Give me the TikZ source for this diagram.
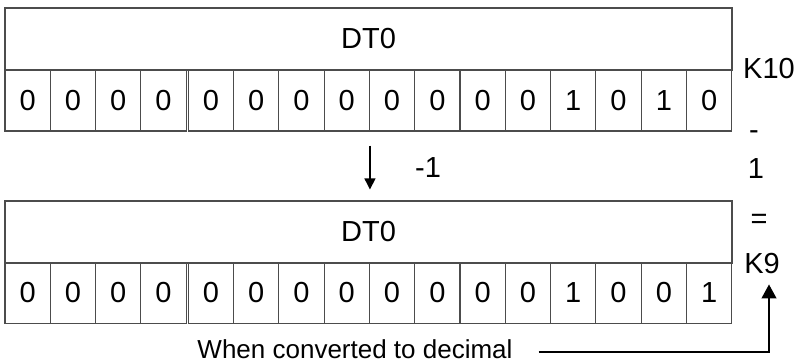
\documentclass[tikz,border=0pt]{standalone}
\usepackage{fontspec}
\setmainfont{Liberation Sans}
\usetikzlibrary{arrows.meta,positioning,calc}

\begin{document}
\begin{tikzpicture}[x=1pt, y=-1pt, every node/.style={font=\fontsize{29}{34}\selectfont, inner sep=0pt},
		cell/.style={draw=black!70, line width=1.1pt, minimum width=45.3pt, minimum height=61pt, font=\fontsize{29}{32}\selectfont},
		head/.style={draw=black!70, line width=1.1pt, minimum width=727pt, minimum height=62pt, font=\fontsize{29}{32}\selectfont},
		arr/.style={-{Triangle[length=11pt,width=11pt]}, line width=1.1pt}]
	\useasboundingbox (0,0) rectangle (797,362);
	% register before
	\node[head] (dtA) at (368.5,39) {DT0};
	\foreach \b [count=\i] in {0,0,0,0,0,0,0,0,0,0,0,0,1,0,1,0} {
		\pgfmathsetmacro\cx{5+45.3*(\i-0.5)+(\i>4)*2}
		\node[cell] (t\i) at (\cx,100.5) {\b};
	}
	% register after
	\node[head] (dtB) at (368.5,232) {DT0};
	\foreach \b [count=\i] in {0,0,0,0,0,0,0,0,0,0,0,0,1,0,0,1} {
		\pgfmathsetmacro\cx{5+45.3*(\i-0.5)+(\i>4)*2}
		\node[cell] (b\i) at (\cx,293) {\b};
	}
	% right column
	\node (k10) at (769,69) {K10};
	\node (minus) at (754,135) {-};
	\node (one) at (756,169) {1};
	\node (eq) at (759,221) {=};
	\node (k9) at (762,264) {K9};
	\node[anchor=base, font=\fontsize{26}{30}\selectfont] (dec) at (355,358) {When converted to decimal};
	\node (sub) at (428,168) {-1};
	% arrows
	\coordinate (dnA) at ([yshift=-14pt]t8.south east);
	\draw[arr] (dnA) -- ([yshift=11pt]dtB.north -| dnA);
	\coordinate (turn) at (769,352);
	\coordinate (decEnd) at ([xshift=26pt]dec.east);
	\draw[arr, -{Triangle[length=14pt,width=15pt]}] (decEnd |- turn) -- (turn) -- ([yshift=-10pt]turn |- k9.south);
\end{tikzpicture}
\end{document}
